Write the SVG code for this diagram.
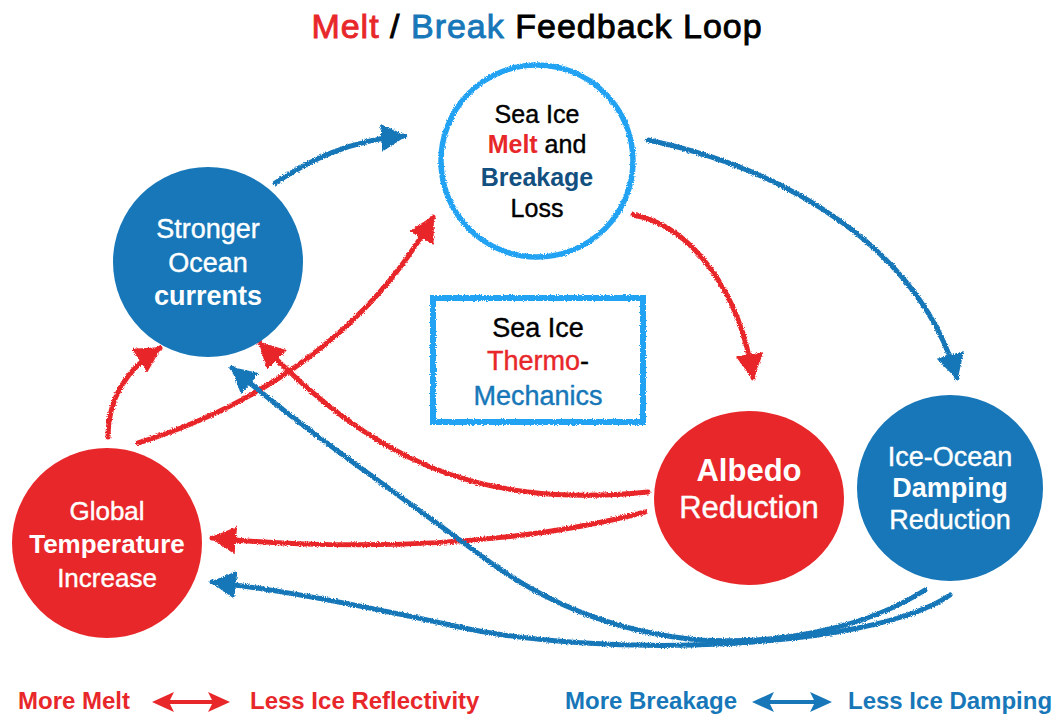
<svg xmlns="http://www.w3.org/2000/svg" width="1058" height="715" viewBox="0 0 1058 715">
  <style>
    text { font-family: "Liberation Sans", Arial, Helvetica, sans-serif; text-anchor: middle; stroke-width: 0; }
    .b { font-weight: bold; }
    .m { stroke-width: 0.4; stroke-linejoin: round; }
    .wt { fill: #ffffff; stroke: #ffffff; }
    .red { fill: #e8272a; stroke: #e8272a; }
    .blue { fill: #1777b8; stroke: #1777b8; }
    .dblue { fill: #13507f; stroke: #13507f; }
    .blk { fill: #000000; stroke: #000000; }
    .conn { fill: none; stroke-width: 5; stroke-linecap: round; }
    .cr { stroke: #e8272a; }
    .cb { stroke: #1777b8; }
    .ring { fill: #ffffff; stroke: #22a2f2; stroke-width: 5.5; }
    .legend { font-size: 24px; font-weight: bold; text-anchor: start; }
  </style>
  <defs>
    <!-- rough crayon edge for hand-drawn strokes -->
    <filter id="crayon" filterUnits="userSpaceOnUse" x="0" y="0" width="1058" height="715">
      <feTurbulence type="fractalNoise" baseFrequency="0.9" numOctaves="2" seed="4" result="noise"/>
      <feDisplacementMap in="SourceGraphic" in2="noise" scale="3.5" xChannelSelector="R" yChannelSelector="G"/>
    </filter>
    <marker id="headR" viewBox="0 0 26 28" refX="24" refY="14" markerWidth="26" markerHeight="28" markerUnits="userSpaceOnUse" orient="auto">
      <path d="M0,0 L26,14 L0,28 Z" fill="#e8272a"/>
    </marker>
    <marker id="headB" viewBox="0 0 26 28" refX="24" refY="14" markerWidth="26" markerHeight="28" markerUnits="userSpaceOnUse" orient="auto">
      <path d="M0,0 L26,14 L0,28 Z" fill="#1777b8"/>
    </marker>
  </defs>

  <rect width="1058" height="715" fill="#ffffff"/>

  <!-- title -->
  <text x="537" y="38" font-size="34" letter-spacing="1" style="stroke-width:0.9"><tspan class="red">Melt</tspan><tspan class="blk"> / </tspan><tspan class="blue">Break</tspan><tspan class="blk"> Feedback Loop</tspan></text>

  <!-- connectors -->
  <g id="connectors" filter="url(#crayon)">
    <path class="conn cb" d="M275,183 C310,160 350,140 405,136" marker-end="url(#headB)"/>
    <path class="conn cb" d="M648,140 C790,170 920,250 957,378" marker-end="url(#headB)"/>
    <path class="conn cr" d="M633,215 C690,225 740,290 753,378" marker-end="url(#headR)"/>
    <path class="conn cr" d="M108,437 C108,400 125,370 160,348" marker-end="url(#headR)"/>
    <path class="conn cr" d="M138,443 C260,405 370,330 433,217" marker-end="url(#headR)"/>
    <path class="conn cr" d="M648,492 C470,510 370,455 260,343" marker-end="url(#headR)"/>
    <path class="conn cr" d="M645,512 C520,545 360,552 212,538" marker-end="url(#headR)"/>
    <path class="conn cb" d="M925,590 C870,625 790,645 700,640 C610,632 540,600 480,555 C400,495 310,435 232,368" marker-end="url(#headB)"/>
    <path class="conn cb" d="M950,595 C870,650 600,660 450,625 C350,603 280,590 212,582" marker-end="url(#headB)"/>
  </g>

  <!-- Sea Ice Melt and Breakage Loss -->
  <g id="node-seaice-loss">
    <circle class="ring" cx="537" cy="161" r="96" filter="url(#crayon)"/>
    <text x="537" y="123" font-size="25" class="blk m">Sea Ice</text>
    <text x="537" y="153" font-size="25"><tspan class="red b">Melt</tspan><tspan class="blk m"> and</tspan></text>
    <text x="537" y="186" font-size="25" class="dblue b">Breakage</text>
    <text x="537" y="217" font-size="25" class="blk m">Loss</text>
  </g>

  <!-- Stronger Ocean currents -->
  <g id="node-currents">
    <circle cx="208" cy="262" r="95" fill="#1777b8"/>
    <text x="208" y="238" font-size="27" class="wt m">Stronger</text>
    <text x="208" y="272" font-size="27" class="wt m">Ocean</text>
    <text x="208" y="305" font-size="27" class="wt b">currents</text>
  </g>

  <!-- Global Temperature Increase -->
  <g id="node-temperature">
    <circle cx="107" cy="543" r="95" fill="#e8272a"/>
    <text x="107" y="520" font-size="26" class="wt m">Global</text>
    <text x="107" y="553" font-size="26" class="wt b">Temperature</text>
    <text x="107" y="587" font-size="26" class="wt m">Increase</text>
  </g>

  <!-- Sea Ice Thermo-Mechanics -->
  <g id="node-thermomechanics">
    <rect x="433" y="298" width="210" height="124" fill="#ffffff" stroke="#22a2f2" stroke-width="6" filter="url(#crayon)"/>
    <text x="538" y="337" font-size="27" class="blk m">Sea Ice</text>
    <text x="538" y="370" font-size="27"><tspan class="red m">Thermo</tspan><tspan class="blk m">-</tspan></text>
    <text x="538" y="405" font-size="27" class="blue m">Mechanics</text>
  </g>

  <!-- Albedo Reduction -->
  <g id="node-albedo">
    <ellipse cx="749" cy="498" rx="95" ry="87" fill="#e8272a"/>
    <text x="749" y="481" font-size="31" class="wt b">Albedo</text>
    <text x="749" y="518" font-size="31" class="wt m">Reduction</text>
  </g>

  <!-- Ice-Ocean Damping Reduction -->
  <g id="node-damping">
    <circle cx="950" cy="488" r="93" fill="#1777b8"/>
    <text x="950" y="466" font-size="27" class="wt m">Ice-Ocean</text>
    <text x="950" y="497" font-size="27" class="wt b">Damping</text>
    <text x="950" y="529" font-size="27" class="wt m">Reduction</text>
  </g>

  <!-- legend -->
  <g id="legend-melt">
    <text x="18" y="709" class="legend red">More Melt</text>
    <path d="M166,700 H216 V704 H166 Z" fill="#e8272a"/>
    <path d="M152,702 L174,692 L169,702 L174,712 Z" fill="#e8272a"/>
    <path d="M230,702 L208,692 L213,702 L208,712 Z" fill="#e8272a"/>
    <text x="250" y="709" class="legend red">Less Ice Reflectivity</text>
  </g>
  <g id="legend-break">
    <text x="565" y="709" class="legend blue">More Breakage</text>
    <path d="M766,700 H818 V704 H766 Z" fill="#1777b8"/>
    <path d="M752,702 L774,692 L769,702 L774,712 Z" fill="#1777b8"/>
    <path d="M832,702 L810,692 L815,702 L810,712 Z" fill="#1777b8"/>
    <text x="848" y="709" class="legend blue">Less Ice Damping</text>
  </g>
</svg>
